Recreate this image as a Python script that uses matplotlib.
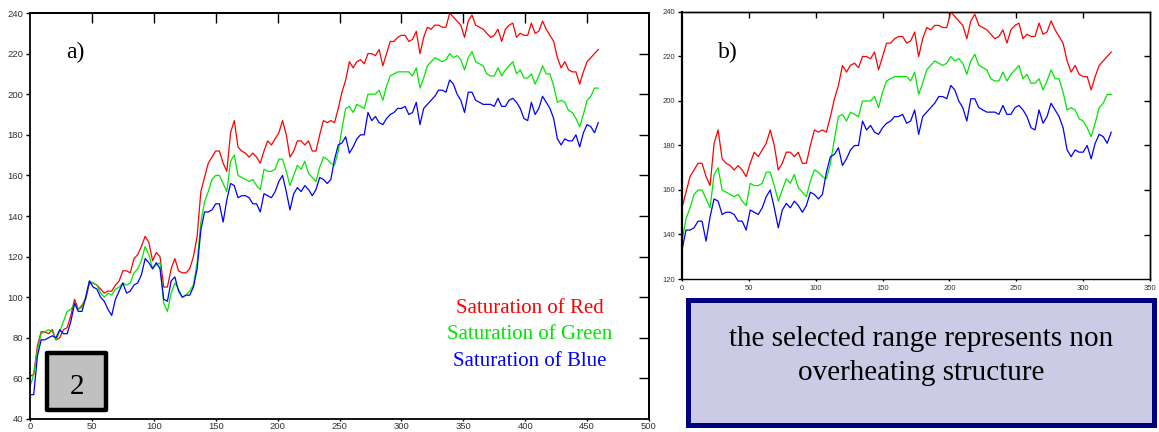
import matplotlib
matplotlib.use('Agg')
import matplotlib.pyplot as plt
import numpy as np
from matplotlib.patches import Rectangle

#---------------------------------------------------------------------------
#                               DATA
#---------------------------------------------------------------------------

# sample position along the profile (every 3 units)
position = np.arange(0, 460, 3)

sat_red = [61, 62, 76, 83, 83, 82, 84, 79, 80, 84, 85, 91, 99, 94, 96, 99, 107, 107, 106, 104,
           102, 103, 103, 106, 108, 113, 113, 112, 119, 121, 125, 130, 127, 118, 122, 120, 105, 105, 114, 119,
           113, 112, 112, 114, 120, 130,
           152, 159, 166, 169, 172, 172, 166, 162, 181, 187,
           174, 172, 171, 169, 171, 169, 166, 172, 177, 175,
           178, 181, 187, 180, 169, 172, 177, 177, 175, 177,
           172, 172, 180, 187, 186, 187, 186, 193, 201, 207,
           216, 213, 216, 217, 215, 220, 220, 219, 222, 214,
           220, 226, 226, 228, 229, 229, 226, 227, 231, 220,
           228, 233, 232, 234, 234, 233, 233, 240, 238, 236,
           234, 228, 236, 239, 234, 233, 232, 230, 228, 229,
           232, 226, 232, 234, 235, 228, 230, 229, 229, 235,
           230, 231, 236, 232, 229, 226, 218, 213, 216, 212,
           211, 211, 205, 211, 216, 218, 220, 222]

sat_green = [56, 62, 74, 82, 83, 84, 83, 79, 83, 88, 93, 94, 97, 94, 95, 100, 108, 107, 106, 102,
             100, 102, 101, 104, 105, 107, 106, 107, 112, 114, 118, 125, 121, 114, 116, 117, 97, 93, 102, 107,
             104, 100, 101, 103, 106, 117,
             137, 147, 152, 158, 160, 160, 156, 152, 167, 170,
             160, 159, 158, 157, 158, 155, 153, 163, 162, 162,
             163, 168, 168, 162, 155, 160, 165, 163, 167, 161,
             159, 157, 164, 169, 168, 166, 165, 172, 183, 193,
             194, 191, 195, 194, 193, 200, 200, 200, 202, 197,
             204, 209, 210, 211, 211, 211, 211, 209, 213, 203,
             208, 214, 216, 218, 217, 216, 217, 220, 218, 219,
             217, 212, 218, 221, 216, 215, 214, 210, 209, 209,
             213, 209, 212, 214, 216, 210, 212, 208, 208, 210,
             205, 209, 214, 210, 210, 204, 196, 197, 196, 192,
             191, 188, 184, 190, 197, 199, 203, 203]

sat_blue = [52, 52, 71, 79, 79, 80, 81, 80, 84, 82, 82, 88, 97, 93, 93, 100, 108, 105, 104, 100,
            98, 94, 91, 99, 103, 107, 102, 103, 106, 107, 111, 119, 117, 114, 117, 114, 99, 98, 108, 110,
            103, 100, 101, 101, 105, 114,
            133, 142, 142, 143, 146, 146, 137, 148, 156, 155,
            149, 150, 150, 149, 146, 146, 142, 151, 150, 149,
            152, 157, 160, 152, 143, 151, 154, 152, 155, 153,
            150, 153, 159, 158, 156, 158, 168, 175, 176, 179,
            171, 174, 178, 180, 180, 191, 187, 189, 186, 185,
            188, 190, 191, 193, 193, 194, 190, 191, 196, 185,
            193, 195, 197, 199, 202, 202, 201, 207, 205, 200,
            197, 191, 201, 201, 197, 196, 195, 195, 195, 194,
            198, 194, 194, 197, 198, 196, 193, 188, 187, 196,
            190, 193, 199, 196, 193, 188, 178, 175, 178, 177,
            177, 180, 174, 181, 185, 184, 181, 186]

# start of the selected range (non overheating part)
range_start = 46

legend_labels = ['Saturation of Red', 'Saturation of Green', 'Saturation of Blue']
colors = ['#ff0000', '#00e600', '#0000ff']

#---------------------------------------------------------------------------
#                               FIGURE
#---------------------------------------------------------------------------

fig = plt.figure(figsize=(11.59, 4.32), dpi=100)
serif = 'Liberation Serif'
sans = 'Liberation Sans'


def frame(ax, xticks, yticks, size, in_len, lw):
    ax.set_xticks(xticks)
    ax.set_yticks(yticks)
    for s in ax.spines.values():
        s.set_linewidth(lw)
    ax.tick_params(axis='y', direction='out', length=3, width=1, labelsize=size, pad=2,
                   labelcolor='#333333')
    ax.tick_params(axis='x', direction='out', length=1.5, width=1, labelsize=size, pad=0.5,
                   labelcolor='#333333')
    for lab in ax.get_xticklabels() + ax.get_yticklabels():
        lab.set_family(sans)
    top = ax.secondary_xaxis('top')
    top.set_xticks(xticks[1:-1])
    top.tick_params(direction='in', length=in_len, width=1, labeltop=False)
    right = ax.secondary_yaxis('right')
    right.set_yticks(yticks[1:-1])
    right.tick_params(direction='in', length=in_len, width=1, labelright=False)
    top.spines['top'].set_linewidth(lw)
    right.spines['right'].set_linewidth(lw)


# a) full profile ---------------------------------------------------------
ax1 = fig.add_axes([30 / 1159, 13 / 432, 619 / 1159, 406 / 432])
series = [sat_red, sat_green, sat_blue]
for vals, c in zip(series, colors):
    ax1.plot(position, vals, color=c, linewidth=0.9)
ax1.set_xlim(0, 500)
ax1.set_ylim(40, 240)
frame(ax1, np.arange(0, 501, 50), np.arange(40, 241, 20), 6.8, 7, 1.3)
ax1.text(37, 220.5, 'a)', fontsize=17, family=serif, ha='center', va='center')

for k, (lab, c) in enumerate(zip(legend_labels, colors)):
    ax1.text(0.808, 0.272 - k * 0.065, lab, color=c, fontsize=15, family=serif,
             ha='center', va='center', transform=ax1.transAxes)

# b) selected range -------------------------------------------------------
ax2 = fig.add_axes([682 / 1159, 153 / 432, 468 / 1159, 267 / 432])
for vals, c in zip(series, colors):
    ax2.plot(position[range_start:] - position[range_start], vals[range_start:],
             color=c, linewidth=0.9)
ax2.set_xlim(0, 350)
ax2.set_ylim(120, 240)
frame(ax2, np.arange(0, 351, 50), np.arange(120, 241, 20), 5.5, 4, 1.0)
ax2.tick_params(axis='x', pad=3)
ax2.spines['left'].set_linewidth(1.6)
ax2.text(34, 222, 'b)', fontsize=17, family=serif, ha='center', va='center')

# boxes -------------------------------------------------------------------
fig.add_artist(Rectangle((47 / 1159, 22 / 432), 59 / 1159, 57 / 432,
                         transform=fig.transFigure, facecolor='#c0c0c0',
                         edgecolor='black', linewidth=3.2, joinstyle='round'))
fig.text(77 / 1159, 1 - 387 / 432, '2', fontsize=21, family=serif,
         ha='center', va='center')

fig.add_artist(Rectangle((688 / 1159, 7 / 432), 466 / 1159, 125 / 432,
                         transform=fig.transFigure, facecolor='#cbcbe6',
                         edgecolor='#000080', linewidth=3.6))
fig.text(921 / 1159, 1 - 356 / 432, 'the selected range represents non\noverheating structure',
         fontsize=21, family=serif, ha='center', va='center', linespacing=1.45)

plt.savefig('out.png', dpi=100)
plt.close()
